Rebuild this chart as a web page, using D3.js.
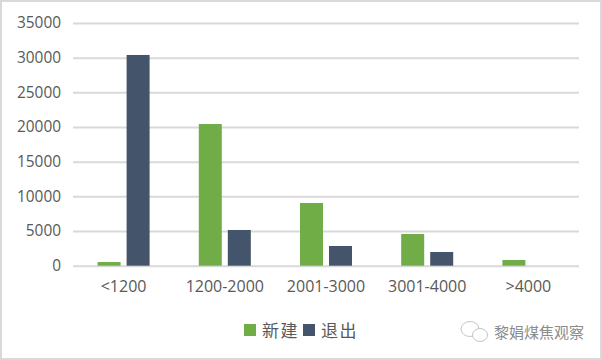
<!DOCTYPE html>
<html>
<head>
<meta charset="utf-8">
<style>
  html, body { margin: 0; padding: 0; background: #fff; }
  svg { display: block; }
  text { font-family: "Open Sans", "Noto Sans CJK SC", sans-serif; fill: #595959; }
</style>
<script src="https://cdn.jsdelivr.net/npm/d3@7"></script>
</head>
<body>
<div class="chart"></div>
<script>
// Values
const categories = ['<1200', '1200-2000', '2001-3000', '3001-4000', '>4000'];
const seriesNames = ['新建', '退出'];
const seriesColors = ['#70ad47', '#44546a'];
const newBuilt = [530, 20430, 9040, 4570, 820];
const retired = [30390, 5150, 2840, 1975, 0];
const yTicks = [0, 5000, 10000, 15000, 20000, 25000, 30000, 35000];
const watermark = '黎娟煤焦观察';

const width = 602;
const height = 360;
const margin = { top: 23, right: 23, bottom: 94.3, left: 73 };

const svg = d3.select('.chart')
  .append('svg')
  .attr('width', width)
  .attr('height', height);

// Light grey frame round the picture
svg.append('rect')
  .attr('x', 1)
  .attr('y', 1)
  .attr('width', width - 2)
  .attr('height', height - 2)
  .attr('fill', '#fff')
  .attr('stroke', '#d9d9d9')
  .attr('stroke-width', 2);

const x = d3.scaleBand()
  .domain(categories)
  .range([margin.left, width - margin.right]);

const xInner = d3.scaleBand()
  .domain(seriesNames)
  .range([0, x.bandwidth()])
  .paddingInner(0.207)
  .paddingOuter(0.848);

const y = d3.scaleLinear()
  .domain([0, 35000])
  .range([height - margin.bottom, margin.top]);

// Y axis with the gridlines
const yAxis = svg.append('g')
  .attr('transform', `translate(${margin.left},0)`)
  .call(d3.axisLeft(y).tickValues(yTicks).tickFormat(d => d).tickSize(-(width - margin.left - margin.right)).tickPadding(12));
yAxis.select('.domain').remove();
yAxis.selectAll('line').attr('stroke', '#d9d9d9').attr('stroke-width', 2);
yAxis.selectAll('text').attr('font-size', 15.4).attr('fill', '#595959');

// X axis
const xAxis = svg.append('g')
  .attr('transform', `translate(0,${height - margin.bottom})`)
  .call(d3.axisBottom(x).tickSize(0).tickPadding(15));
xAxis.select('.domain').remove();
xAxis.selectAll('text').attr('font-size', 16).attr('fill', '#595959');

// Bars
[newBuilt, retired].forEach((values, s) => {
  svg.append('g')
    .selectAll('rect')
    .data(values)
    .join('rect')
    .attr('x', (d, i) => x(categories[i]) + xInner(seriesNames[s]))
    .attr('y', d => y(d))
    .attr('width', xInner.bandwidth())
    .attr('height', d => y(0) - y(d))
    .attr('fill', seriesColors[s]);
});

// Legend
const legend = svg.append('g').attr('transform', 'translate(244,324)');
seriesNames.forEach((name, i) => {
  legend.append('rect')
    .attr('x', i * 59)
    .attr('y', 0)
    .attr('width', 12)
    .attr('height', 12)
    .attr('fill', seriesColors[i]);
  legend.append('text')
    .attr('x', i * 59 + 18)
    .attr('y', 12.5)
    .attr('font-size', 17)
    .attr('letter-spacing', 1.5)
    .text(name);
});

// Watermark, icon and account name
const mark = svg.append('g').attr('fill', '#fff').attr('stroke', '#c4c4c4').attr('stroke-width', 1);
mark.append('ellipse').attr('cx', 470).attr('cy', 329).attr('rx', 9).attr('ry', 7.5);
mark.append('ellipse').attr('cx', 480).attr('cy', 335).attr('rx', 7.5).attr('ry', 6.5);
svg.append('text')
  .attr('x', 494)
  .attr('y', 338)
  .attr('font-size', 15)
  .style('fill', '#8c8c8c')
  .text(watermark);
</script>
</body>
</html>
